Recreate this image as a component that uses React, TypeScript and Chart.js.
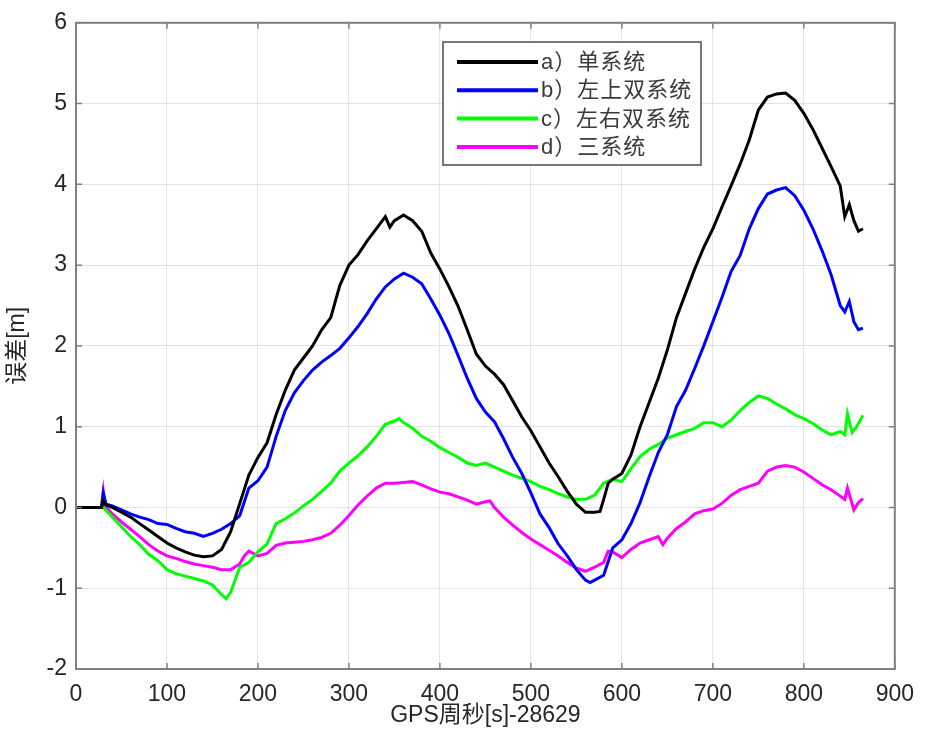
import React, { useEffect, useRef } from 'react';
import { Chart, registerables } from 'chart.js';

Chart.register(...registerables);

// ---------- data ----------
const seriesLabels = ['a）单系统', 'b）左上双系统', 'c）左右双系统', 'd）三系统'];
const seriesColors = ['#000000', '#0000ff', '#00ff00', '#ff00ff'];
const xTickValues = [0, 100, 200, 300, 400, 500, 600, 700, 800, 900];
const yTickValues = [-2, -1, 0, 1, 2, 3, 4, 5, 6];
const xTitle = 'GPS周秒[s]-28629';
const yTitle = '误差[m]';

// a) single system
const aX = [0, 10, 20, 28, 30, 33,
  40, 50, 60, 70, 80, 90, 100, 110, 120, 130, 140, 150, 160, 170, 180, 190, 200, 210, 220, 230, 240, 250, 260, 270, 280, 290, 300, 310, 320, 330, 340,
  345,
  350, 360, 370, 380, 390, 400, 410, 420, 430, 440, 450, 460, 470, 480, 490, 500, 510, 520, 530, 540, 550, 560, 570,
  576, 580, 585, 590,
  600, 610, 620, 630, 640, 650, 660, 670, 680, 690, 700, 710, 720, 730, 740, 750, 760, 770, 780, 790, 800, 810, 820, 830, 840,
  845, 850, 855, 860, 865];
const aY = [0, 0, 0, 0, 0.08, 0.03,
  0.0, -0.06, -0.12, -0.2, -0.28, -0.36, -0.44, -0.5, -0.55, -0.59, -0.61, -0.6, -0.52, -0.3, 0.05, 0.4, 0.62, 0.8, 1.15, 1.45, 1.7, 1.85, 2.0, 2.2, 2.35, 2.75, 3.0, 3.13, 3.3, 3.45, 3.6,
  3.47,
  3.55, 3.62, 3.55, 3.42, 3.15, 2.95, 2.73, 2.49, 2.2, 1.9, 1.75, 1.65, 1.52, 1.32, 1.12, 0.95, 0.75, 0.55, 0.38, 0.2, 0.04, -0.06, -0.06,
  -0.05, 0.1, 0.3, 0.35,
  0.42, 0.65, 1.0, 1.3, 1.6, 1.95, 2.35, 2.65, 2.95, 3.22, 3.45, 3.72, 3.98, 4.25, 4.55, 4.92, 5.08, 5.12, 5.13, 5.04, 4.88, 4.68, 4.45, 4.22, 3.98,
  3.6, 3.75, 3.55, 3.42, 3.45];

// b) upper-left dual system
const bX = [0, 10, 20, 28, 30, 33,
  40, 50, 60, 70, 80, 90, 100, 110, 120, 130, 140, 150, 160, 170, 180, 190, 200, 210, 220, 230, 240, 250, 260, 270, 280, 290, 300, 310, 320, 330, 340, 350, 360, 370, 380, 390, 400, 410, 420, 430, 440, 450, 460, 470, 480, 490, 500, 510, 520, 530, 540, 550, 560,
  565,
  570, 580, 590, 600, 610, 620, 630, 640, 650, 660, 670, 680, 690, 700, 710, 720, 730, 740, 750, 760, 770, 780, 790, 800, 810, 820, 830, 840,
  845, 850, 855, 860, 865];
const bY = [0, 0, 0, 0, 0.18, 0.04,
  0.02, -0.03, -0.08, -0.12, -0.15, -0.2, -0.21, -0.26, -0.3, -0.32, -0.36, -0.32, -0.27, -0.2, -0.1, 0.24, 0.33, 0.5, 0.88, 1.2, 1.42, 1.57, 1.7, 1.8, 1.88, 1.97, 2.1, 2.24, 2.4, 2.58, 2.73, 2.83, 2.9, 2.85, 2.77, 2.58, 2.38, 2.15, 1.88, 1.6, 1.35, 1.18, 1.06, 0.85, 0.62, 0.42, 0.18, -0.08, -0.25, -0.45, -0.6, -0.77, -0.9,
  -0.93,
  -0.9, -0.84, -0.5, -0.4, -0.2, 0.06, 0.38, 0.68, 0.9, 1.25, 1.45, 1.72, 2.0, 2.3, 2.6, 2.92, 3.12, 3.45, 3.7, 3.88, 3.93, 3.96, 3.86, 3.68, 3.45, 3.18, 2.88, 2.5,
  2.42, 2.55, 2.3, 2.2, 2.22];

// c) left-right dual system
const cX = [0, 10, 20, 30,
  40, 50, 60, 70, 80, 90, 100, 110, 120, 130, 140, 150, 160,
  165,
  170, 180, 190, 200, 210, 220, 230, 240, 250, 260, 270, 280, 290, 300, 310, 320, 330, 340, 350,
  355,
  360, 370, 380, 390, 400, 410, 420, 430, 440, 450, 460, 470, 480, 490, 500, 510, 520, 530, 540, 550, 560, 570, 580, 590, 600, 610, 620, 630, 640, 650, 660, 670, 680, 690, 700, 710, 720, 730, 740, 750, 760, 770, 780, 790, 800, 810, 820, 830, 840,
  845, 848, 853, 858, 865];
const cY = [0, 0, 0, 0,
  -0.12, -0.24, -0.36, -0.46, -0.58, -0.66, -0.77, -0.82, -0.85, -0.88, -0.91, -0.96, -1.08,
  -1.13,
  -1.05, -0.74, -0.68, -0.55, -0.45, -0.2, -0.14, -0.07, 0.02, 0.1, 0.2, 0.3, 0.45, 0.55, 0.64, 0.75, 0.88, 1.03, 1.07,
  1.1,
  1.05, 0.98, 0.88, 0.82, 0.74, 0.68, 0.62, 0.55, 0.52, 0.55, 0.5, 0.45, 0.4, 0.36, 0.32, 0.26, 0.22, 0.17, 0.13, 0.1, 0.1, 0.15, 0.3, 0.35, 0.32, 0.48, 0.63, 0.72, 0.78, 0.86, 0.9, 0.94, 0.98, 1.05, 1.05, 1.0, 1.08, 1.2, 1.3, 1.38, 1.35, 1.28, 1.22, 1.15, 1.1, 1.04, 0.96, 0.9, 0.94,
  0.9, 1.16, 0.93, 1.0, 1.14];

// d) triple system
const dX = [0, 10, 20, 28, 30, 32,
  40, 50, 60, 70, 80, 90, 100, 110, 120, 130, 140, 150, 160, 170, 180,
  185,
  190, 200, 210, 220, 230, 240, 250, 260, 270, 280, 290, 300, 310, 320, 330, 340, 350, 360, 370, 380, 390, 400, 410, 420, 430, 440, 450,
  455,
  460, 470, 480, 490, 500, 510, 520, 530, 540, 550, 560, 570, 580,
  585,
  590, 600, 610, 620, 630, 640,
  645,
  650, 660, 670, 680, 690, 700, 710, 720, 730, 740, 750, 760, 770, 780, 790, 800, 810, 820, 830, 840,
  845, 848, 855, 860, 865];
const dY = [0, 0, 0, 0, 0.2, 0.02,
  -0.08, -0.18, -0.27, -0.36, -0.46, -0.54, -0.6, -0.63, -0.67, -0.7, -0.72, -0.74, -0.77, -0.77, -0.7,
  -0.6,
  -0.54, -0.6, -0.57, -0.47, -0.44, -0.43, -0.42, -0.4, -0.37, -0.32, -0.22, -0.1, 0.03, 0.14, 0.24, 0.3, 0.3, 0.31, 0.32, 0.28, 0.23, 0.19, 0.17, 0.13, 0.09, 0.04, 0.07,
  0.08,
  0.0, -0.12, -0.22, -0.31, -0.39, -0.46, -0.53, -0.6, -0.68, -0.75, -0.79, -0.74, -0.68,
  -0.54,
  -0.55, -0.62, -0.52, -0.44, -0.4, -0.36,
  -0.46,
  -0.38, -0.26, -0.18, -0.08, -0.04, -0.02, 0.05, 0.15, 0.22, 0.26, 0.3, 0.45, 0.5, 0.52, 0.5, 0.44, 0.36, 0.28, 0.22, 0.14,
  0.1, 0.24, -0.03, 0.06, 0.11];

const seriesX = [aX, bX, cX, dX];
const seriesY = [aY, bY, cY, dY];

// ---------- styling ----------
const NUM_FONT = "'Liberation Sans', Arial, 'Noto Sans CJK SC', sans-serif";
const TEXT_COLOR = '#262626';
const AXIS_COLOR = '#808080';
const GRID_COLOR = '#e3e3e3';

const matlabPlugin = {
  id: 'matlabDecor',
  afterDraw(chart: any) {
    const { ctx, chartArea: a, scales } = chart;
    const xs = scales.x;
    const ys = scales.y;
    ctx.save();

    // legend box
    const lx = 443, ly = 42, lw = 258, lh = 123;
    ctx.fillStyle = '#ffffff';
    ctx.fillRect(lx, ly, lw, lh);
    ctx.strokeStyle = '#777777';
    ctx.lineWidth = 2;
    ctx.strokeRect(lx, ly, lw, lh);
    ctx.font = `22px ${NUM_FONT}`;
    ctx.textBaseline = 'middle';
    ctx.textAlign = 'left';
    try { (ctx as any).letterSpacing = '1px'; } catch (e) { /* ignore */ }
    for (let i = 0; i < seriesLabels.length; i++) {
      const yy = 62 + i * 28.3;
      ctx.strokeStyle = seriesColors[i];
      ctx.lineWidth = 4;
      ctx.beginPath();
      ctx.moveTo(457, yy);
      ctx.lineTo(538, yy);
      ctx.stroke();
      ctx.fillStyle = '#3a3a3a';
      ctx.fillText(seriesLabels[i], 541, yy + 1);
    }
    try { (ctx as any).letterSpacing = '0px'; } catch (e) { /* ignore */ }

    // frame
    ctx.strokeStyle = AXIS_COLOR;
    ctx.lineWidth = 2;
    ctx.strokeRect(a.left, a.top, a.right - a.left, a.bottom - a.top);

    // inward ticks
    ctx.lineWidth = 1.5;
    const tl = 6;
    ctx.beginPath();
    xTickValues.forEach((v) => {
      const px = xs.getPixelForValue(v);
      ctx.moveTo(px, a.bottom);
      ctx.lineTo(px, a.bottom - tl);
      ctx.moveTo(px, a.top);
      ctx.lineTo(px, a.top + tl);
    });
    yTickValues.forEach((v) => {
      const py = ys.getPixelForValue(v);
      ctx.moveTo(a.left, py);
      ctx.lineTo(a.left + tl, py);
      ctx.moveTo(a.right, py);
      ctx.lineTo(a.right - tl, py);
    });
    ctx.stroke();

    // axis titles
    ctx.fillStyle = TEXT_COLOR;
    ctx.font = `23px ${NUM_FONT}`;
    ctx.textAlign = 'center';
    ctx.textBaseline = 'middle';
    ctx.fillText(xTitle, (a.left + a.right) / 2, 716);
    ctx.translate(18, (a.top + a.bottom) / 2);
    ctx.rotate(-Math.PI / 2);
    ctx.fillText(yTitle, 0, 0);
    ctx.restore();
  },
};

export default function App() {
  const canvasRef = useRef<HTMLCanvasElement | null>(null);

  useEffect(() => {
    const canvas = canvasRef.current;
    if (!canvas) return;
    const datasets = seriesLabels.map((label, i) => ({
      label,
      data: seriesX[i].map((x, j) => ({ x, y: seriesY[i][j] })),
      borderColor: seriesColors[i],
      backgroundColor: seriesColors[i],
      borderWidth: 3,
      pointRadius: 0,
      tension: 0,
      fill: false,
    }));
    const chart = new Chart(canvas, {
      type: 'line',
      data: { datasets },
      options: {
        responsive: false,
        animation: false,
        devicePixelRatio: 1,
        layout: { padding: { top: 17, right: 27, left: 0, bottom: 0 } },
        plugins: { legend: { display: false }, tooltip: { enabled: false } },
        scales: {
          x: {
            type: 'linear',
            min: 0,
            max: 900,
            afterBuildTicks: (s: any) => { s.ticks = xTickValues.map((v) => ({ value: v })); },
            afterFit: (s: any) => { s.height = 75; },
            ticks: { color: TEXT_COLOR, font: { family: NUM_FONT, size: 23 }, padding: 12, maxRotation: 0, autoSkip: false },
            grid: { color: GRID_COLOR, lineWidth: 1, drawTicks: false },
            border: { display: false },
          },
          y: {
            type: 'linear',
            min: -2,
            max: 6,
            afterBuildTicks: (s: any) => { s.ticks = yTickValues.map((v) => ({ value: v })); },
            afterFit: (s: any) => { s.width = 76; },
            ticks: { color: TEXT_COLOR, font: { family: NUM_FONT, size: 23 }, padding: 9, autoSkip: false },
            grid: { color: GRID_COLOR, lineWidth: 1, drawTicks: false },
            border: { display: false },
          },
        },
      },
      plugins: [matlabPlugin],
    } as any);
    return () => chart.destroy();
  }, []);

  return (
    <div style={{ position: 'absolute', left: 0, top: 0, width: 926, height: 744, background: '#fff' }}>
      <canvas ref={canvasRef} width={926} height={744} style={{ display: 'block' }} />
    </div>
  );
}
